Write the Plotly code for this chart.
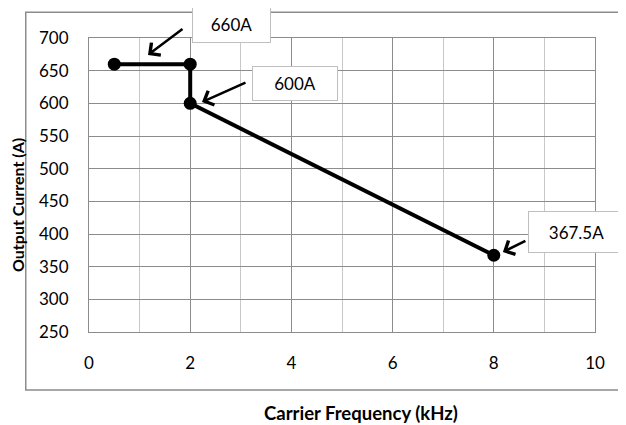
"""Output current derating vs carrier frequency."""

import plotly.graph_objects as go

FREQ_KHZ = [0.5, 2, 2, 8]
CURRENT_A = [660, 660, 600, 367.5]

LABELS = ['660A', '600A', '367.5A']
# arrow tips (data coords)
ARROW_X = [1.166, 2.233, 8.18]
ARROW_Y = [674, 602, 372.4]
# label box centres (fraction of plot area)
LABEL_X = [0.2816, 0.4071, 0.9634]
LABEL_Y = [1.0459, 0.8452, 0.3401]

X_TICKS = [0, 2, 4, 6, 8, 10]
Y_TICKS = [250, 300, 350, 400, 450, 500, 550, 600, 650, 700]

FONT = 'Lato'
MAJOR = '#8c8c8c'
MINOR = '#c8c8c8'


def main():
    fig = go.Figure()
    fig.add_trace(go.Scatter(
        x=FREQ_KHZ, y=CURRENT_A, mode='lines+markers',
        line=dict(color='black', width=4),
        marker=dict(color='black', size=13),
        showlegend=False, cliponaxis=False,
    ))

    # arrows (tail offsets in px) and boxed labels
    tails = [(36, -27), (45, -20), (24, -12)]
    sizes = [(77, 35), (84, 33), (95, 40)]
    for i, lab in enumerate(LABELS):
        fig.add_annotation(
            x=ARROW_X[i], y=ARROW_Y[i], ax=tails[i][0], ay=tails[i][1],
            text='', showarrow=True, arrowhead=4, arrowsize=1.2,
            arrowwidth=2.5, arrowcolor='black', standoff=0,
        )
        fig.add_annotation(
            x=LABEL_X[i], y=LABEL_Y[i], xref='paper', yref='paper', text=lab, showarrow=False,
            xanchor='center', yanchor='middle',
            width=sizes[i][0], height=sizes[i][1], borderpad=0,
            bgcolor='white', bordercolor='#bfbfbf', borderwidth=1,
            font=dict(family=FONT, size=17, color='black'),
        )

    # outer chart frame
    fig.add_shape(type='rect', xref='paper', yref='paper',
                  x0=-0.125, x1=1.12, y0=-0.197, y1=1.088,
                  line=dict(color='#8c8c8c', width=1.5), layer='below')

    fig.add_annotation(x=(17 - 89) / 506, y=(332 - 205) / 294, xref='paper', yref='paper',
                       xanchor='center', yanchor='middle',
                       text='<b>Output Current (A)</b>', showarrow=False, textangle=-90,
                       font=dict(family=FONT, size=16, color='black'))
    fig.add_annotation(x=(361 - 89) / 506, y=(332 - 413) / 294, xref='paper', yref='paper',
                       xanchor='center', yanchor='middle',
                       text='<b>Carrier Frequency (kHz)</b>', showarrow=False,
                       font=dict(family=FONT, size=18.5, color='black'))

    # page body adds 8px offset, so margins are trimmed by 8 on left/top
    fig.update_layout(
        width=626, height=425,
        margin=dict(l=81, r=39, t=30, b=101, autoexpand=False),
        paper_bgcolor='white', plot_bgcolor='white',
        font=dict(family=FONT, size=17, color='black'),
        xaxis=dict(
            range=[0, 10], tickvals=X_TICKS, showgrid=True, gridcolor=MAJOR, gridwidth=1,
            minor=dict(dtick=1, showgrid=True, gridcolor=MINOR, gridwidth=1),
            zeroline=False, showline=True, linecolor=MAJOR, mirror=True,
            ticks='', ticklabelstandoff=16, automargin=False,
        ),
        yaxis=dict(
            range=[250, 700], tickvals=Y_TICKS, showgrid=True, gridcolor=MAJOR, gridwidth=1,
            zeroline=False, showline=True, linecolor=MAJOR, mirror=True,
            ticks='', ticklabelstandoff=16, automargin=False,
        ),
    )
    fig.write_html('out.html')


if __name__ == '__main__':
    main()
